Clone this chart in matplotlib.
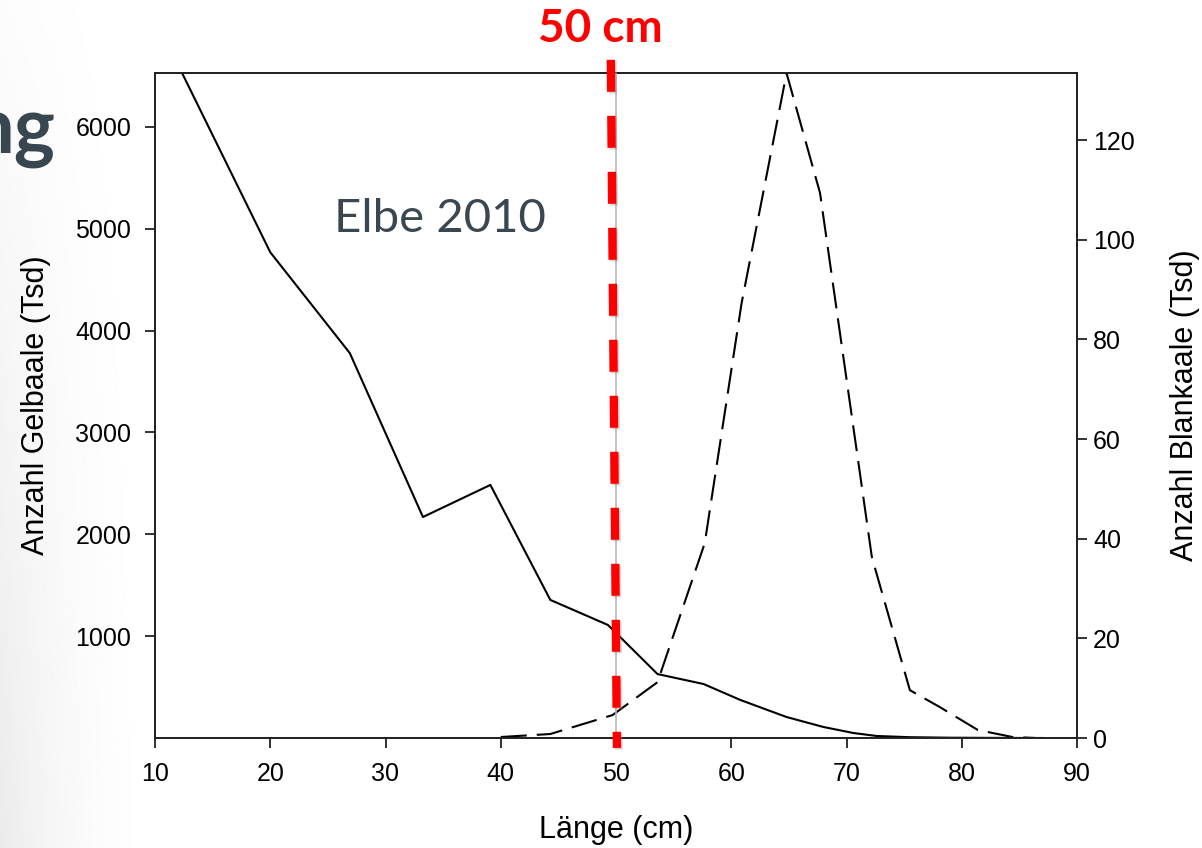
import numpy as np
import matplotlib
matplotlib.use("Agg")
import matplotlib.pyplot as plt
import matplotlib.patheffects as pe

plt.rcParams["font.family"] = ["Liberation Sans", "DejaVu Sans"]

# Gelbaale (left axis, thousands)
yellow_len = [10.0, 20.0, 26.9, 33.25, 39.1, 44.3, 49.3, 53.6, 57.6, 60.8,
              64.8, 68.0, 70.6, 72.6, 75.5, 79.0, 83.0, 87.0]
yellow_n = [7070, 4770, 3780, 2170, 2485, 1356, 1110, 628, 530, 373,
            206, 108, 49, 20, 8, 3, 1, 0]

# Blankaale (right axis, thousands)
silver_len = [40.0, 44.3, 49.7, 53.6, 57.7, 60.9, 64.8, 67.7, 72.2, 75.5,
              78.1, 81.4, 84.4, 86.4]
silver_n = [0.2, 0.8, 4.6, 11.2, 39.1, 87.3, 133.4, 109.4, 36.3, 9.6,
            6.2, 1.6, 0.2, 0.0]

x_ticks = list(range(10, 91, 10))
left_ticks = [1000, 2000, 3000, 4000, 5000, 6000]
right_ticks = [0, 20, 40, 60, 80, 100, 120]
cut_len = 50

W, H = 1202, 848
fig = plt.figure(figsize=(W / 100, H / 100), dpi=100)

# light slide gradient at the left edge
bg = fig.add_axes([0, 0, 0.14, 1], zorder=-5)
xs = np.linspace(0, 1, 200)
ys = np.linspace(0, 1, 400)
xx, yy = np.meshgrid(xs, ys)
shade = 1 - 0.08 * (1 - xx) ** 2 * (0.15 + 0.85 * yy)
bg.imshow(shade, cmap="gray", vmin=0, vmax=1, aspect="auto",
          extent=[0, 1, 0, 1], origin="upper")
bg.axis("off")

ax = fig.add_axes([155 / W, 1 - 738 / H, (1077 - 155) / W, (738 - 73) / H])
ax.patch.set_alpha(0)

ax.plot(yellow_len, yellow_n, color="black", lw=1.5)
ax.set_xlim(10, 90)
ax.set_ylim(0, 6530)
ax.set_xticks(x_ticks)
ax.set_yticks(left_ticks)

ax2 = ax.twinx()
ax2.plot(silver_len, silver_n, color="black", lw=1.5, dashes=(12.5, 4.8))
ax2.set_ylim(0, 133.45)
ax2.set_yticks(right_ticks)

for a in (ax, ax2):
    for s in a.spines.values():
        s.set_linewidth(1.3)
        s.set_color("#222222")

ax.tick_params(axis="both", labelsize=18, length=7, width=1.3,
               color="#222222")
ax.tick_params(axis="y", pad=10)
ax.tick_params(axis="x", pad=10.5)
ax2.tick_params(axis="y", labelsize=18, length=7, width=1.3, pad=4.5,
                color="#222222")

ax.set_xlabel("Länge (cm)", fontsize=22)
ax.xaxis.set_label_coords(0.5, (738 - 830) / 665)
ax.xaxis.label.set_va("center")
ax.set_ylabel("Anzahl Gelbaale (Tsd)", fontsize=22, va="center")
ax.yaxis.set_label_coords((36 - 155) / 922, 0.5)
ax2.set_ylabel("Anzahl Blankaale (Tsd)", fontsize=22, va="center",
               rotation=90)
ax2.yaxis.set_label_coords((1185 - 155) / 922, 0.5)

# original thin grey marker at 50 cm
ax2.axvline(cut_len, color="#b8b8b8", lw=1.2, zorder=3)

# red dashed highlight, slightly tilted, running past the frame
ax2.plot([cut_len - 0.45, cut_len + 0.08], [136.1, -2.0], color="#ff0000",
         lw=6, dashes=(3.84, 2.88), solid_capstyle="butt",
         dash_capstyle="butt", clip_on=False, zorder=5,
         path_effects=[pe.SimpleLineShadow(offset=(1.2, -1.2),
                                           shadow_color="#888888",
                                           alpha=0.35),
                       pe.Normal()])

fig.text(600 / W, 1 - 42 / H, "50 cm", color="#ff0000", fontsize=33,
         fontweight="bold", family="Lato", ha="center", va="baseline")
fig.text(334 / W, 1 - 232 / H, "Elbe 2010", color="#3a4750", fontsize=34,
         family="Lato", ha="left", va="baseline")
fig.text(55 / W, 1 - 153 / H, "ng", color="#37464f", fontsize=56,
         fontweight="bold", family="Lato", ha="right", va="baseline")

fig.savefig("out.png", dpi=100)
